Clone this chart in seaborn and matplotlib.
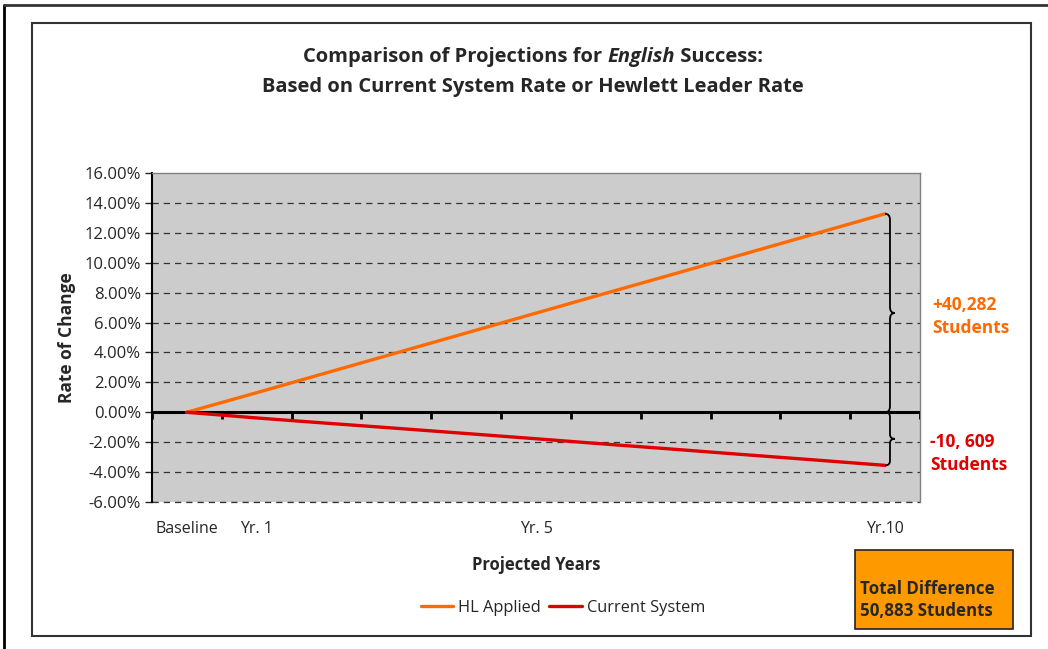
import numpy as np
import pandas as pd
import matplotlib
matplotlib.use("Agg")
import matplotlib.pyplot as plt
from matplotlib.path import Path
from matplotlib.patches import PathPatch, Rectangle
from matplotlib.lines import Line2D
import seaborn as sns

# 数据
years = ["Baseline", "Yr. 1", "Yr. 2", "Yr. 3", "Yr. 4", "Yr. 5",
         "Yr. 6", "Yr. 7", "Yr. 8", "Yr. 9", "Yr.10"]
hl_applied = [0.0, 1.31, 2.64, 3.97, 5.30, 6.63, 7.96, 9.28, 10.61, 11.94, 13.27]
current_system = [0.0, -0.38, -0.73, -1.07, -1.42, -1.77, -2.13, -2.48, -2.84, -3.19, -3.55]
shown_ticks = ["Baseline", "Yr. 1", "Yr. 5", "Yr.10"]
hl_label = "+40,282\nStudents"
cs_label = "-10, 609\nStudents"
box_label = "Total Difference\n50,883 Students"

ORANGE = "#FF6A00"
RED = "#E00000"

sns.set_style("white")
plt.rcParams['font.family'] = ['Open Sans', 'DejaVu Sans']

df = pd.DataFrame({
    "idx": list(range(len(years))) * 2,
    "value": hl_applied + current_system,
    "series": ["HL Applied"] * len(years) + ["Current System"] * len(years),
})

W, H = 1048, 649
fig = plt.figure(figsize=(W / 100, H / 100), dpi=100)
ax = fig.add_axes([152 / W, 1 - 502 / H, (920 - 152) / W, (502 - 173) / H])
ax.set_facecolor("#CCCCCC")

# 网格线
for y in np.arange(-6, 16, 2):
    if y == 0:
        continue
    ax.axhline(y, color="#333333", lw=0.9, ls=(0, (5, 4)), zorder=1)

sns.lineplot(data=df, x="idx", y="value", hue="series",
             palette={"HL Applied": ORANGE, "Current System": RED},
             lw=2.4, ax=ax, legend=False, zorder=4)

# 零线及刻度
ax.axhline(0, color="black", lw=2.2, zorder=3)
ax.vlines(np.arange(len(years) + 1) - 0.5, -0.45, 0, color="black", lw=2, zorder=3)

ax.set_xlim(-0.5, len(years) - 0.5)
ax.set_ylim(-6, 16)
ax.set_yticks(np.arange(-6, 17, 2))
ax.set_yticklabels([f"{v:.2f}%" for v in np.arange(-6, 17, 2)], fontsize=12)
pos = [years.index(t) for t in shown_ticks]
ax.set_xticks(pos)
ax.set_xticklabels(shown_ticks, fontsize=11.5)
ax.tick_params(axis="x", length=0, pad=14)
ax.tick_params(axis="y", length=5, width=1, direction="out", left=True, pad=3)

for s in ["top", "right"]:
    ax.spines[s].set_color("#808080")
    ax.spines[s].set_linewidth(1)
ax.spines["bottom"].set_visible(False)
ax.axhline(-6, color="#333333", lw=0.9, ls=(0, (5, 4)), clip_on=False, zorder=2)
ax.spines["left"].set_color("black")
ax.spines["left"].set_linewidth(1.5)

ax.set_xlabel("Projected Years", fontsize=12, fontweight="bold", labelpad=13)
ax.set_ylabel("Rate of Change", fontsize=12.5, fontweight="bold", labelpad=6)


# 大括号
def brace(ax, x0, y_lo, y_hi, w=0.14, h=0.4):
    ym = (y_lo + y_hi) / 2
    xm = x0 + w / 2
    verts = [(x0, y_hi), (xm, y_hi), (xm, y_hi - h),
             (xm, ym + h),
             (xm, ym), (x0 + w, ym),
             (xm, ym), (xm, ym - h),
             (xm, y_lo + h),
             (xm, y_lo), (x0, y_lo)]
    codes = [Path.MOVETO, Path.CURVE3, Path.CURVE3,
             Path.LINETO,
             Path.CURVE3, Path.CURVE3,
             Path.CURVE3, Path.CURVE3,
             Path.LINETO,
             Path.CURVE3, Path.CURVE3]
    ax.add_patch(PathPatch(Path(verts, codes), fill=False, lw=1.3,
                           edgecolor="black", zorder=5, clip_on=False))


last = len(years) - 1
brace(ax, last, 0, hl_applied[-1])
brace(ax, last, current_system[-1], 0, h=0.3)

ax.text(10.68, 6.4, hl_label, color=ORANGE, fontsize=12.5, fontweight="bold",
        va="center", ha="left", linespacing=1.35)
ax.text(10.65, -2.75, cs_label, color=RED, fontsize=12.5, fontweight="bold",
        va="center", ha="left", linespacing=1.35)

# 标题（English 为斜体）
fig.canvas.draw()
r = fig.canvas.get_renderer()
parts = [("Comparison of Projections for ", "normal"), ("English", "italic"), (" Success:", "normal")]
texts = []
for s, st in parts:
    t = fig.text(0, 1 - 57 / H, s, fontsize=14.5, fontweight="bold", style=st,
                 va="center", ha="left")
    texts.append(t)
widths = [t.get_window_extent(r).width for t in texts]
x = 533 - sum(widths) / 2
for t, wd in zip(texts, widths):
    t.set_x(x / W)
    x += wd
fig.text(533 / W, 1 - 87 / H, "Based on Current System Rate or Hewlett Leader Rate",
         fontsize=14.5, fontweight="bold", ha="center", va="center")

# 图例
handles = [Line2D([], [], color=ORANGE, lw=2.4), Line2D([], [], color=RED, lw=2.4)]
fig.legend(handles, ["HL Applied", "Current System"], loc="center",
           bbox_to_anchor=(563 / W, 1 - 608 / H), ncol=2, frameon=False,
           fontsize=11.8, handlelength=2.0, columnspacing=0.5, handletextpad=0.3)

# 橙色方框
fig.patches.append(Rectangle((855 / W, 1 - 629 / H), 158 / W, 79 / H,
                             transform=fig.transFigure, facecolor="#FF9900",
                             edgecolor="#222222", lw=1.2))
fig.text(860 / W, 1 - 600 / H, box_label, fontsize=12.2, fontweight="bold",
         va="center", ha="left", linespacing=1.3)

# 外框
fig.patches.append(Rectangle((32 / W, 1 - 636 / H), 999 / W, 613 / H,
                             transform=fig.transFigure, fill=False,
                             edgecolor="#333333", lw=1.5))
fig.lines.append(Line2D([4 / W, 4 / W], [0, 1 - 5 / H], transform=fig.transFigure,
                        color="black", lw=2))
fig.lines.append(Line2D([4 / W, 1], [1 - 5 / H, 1 - 5 / H], transform=fig.transFigure,
                        color="#333333", lw=2))

fig.savefig("out.png", dpi=100)
